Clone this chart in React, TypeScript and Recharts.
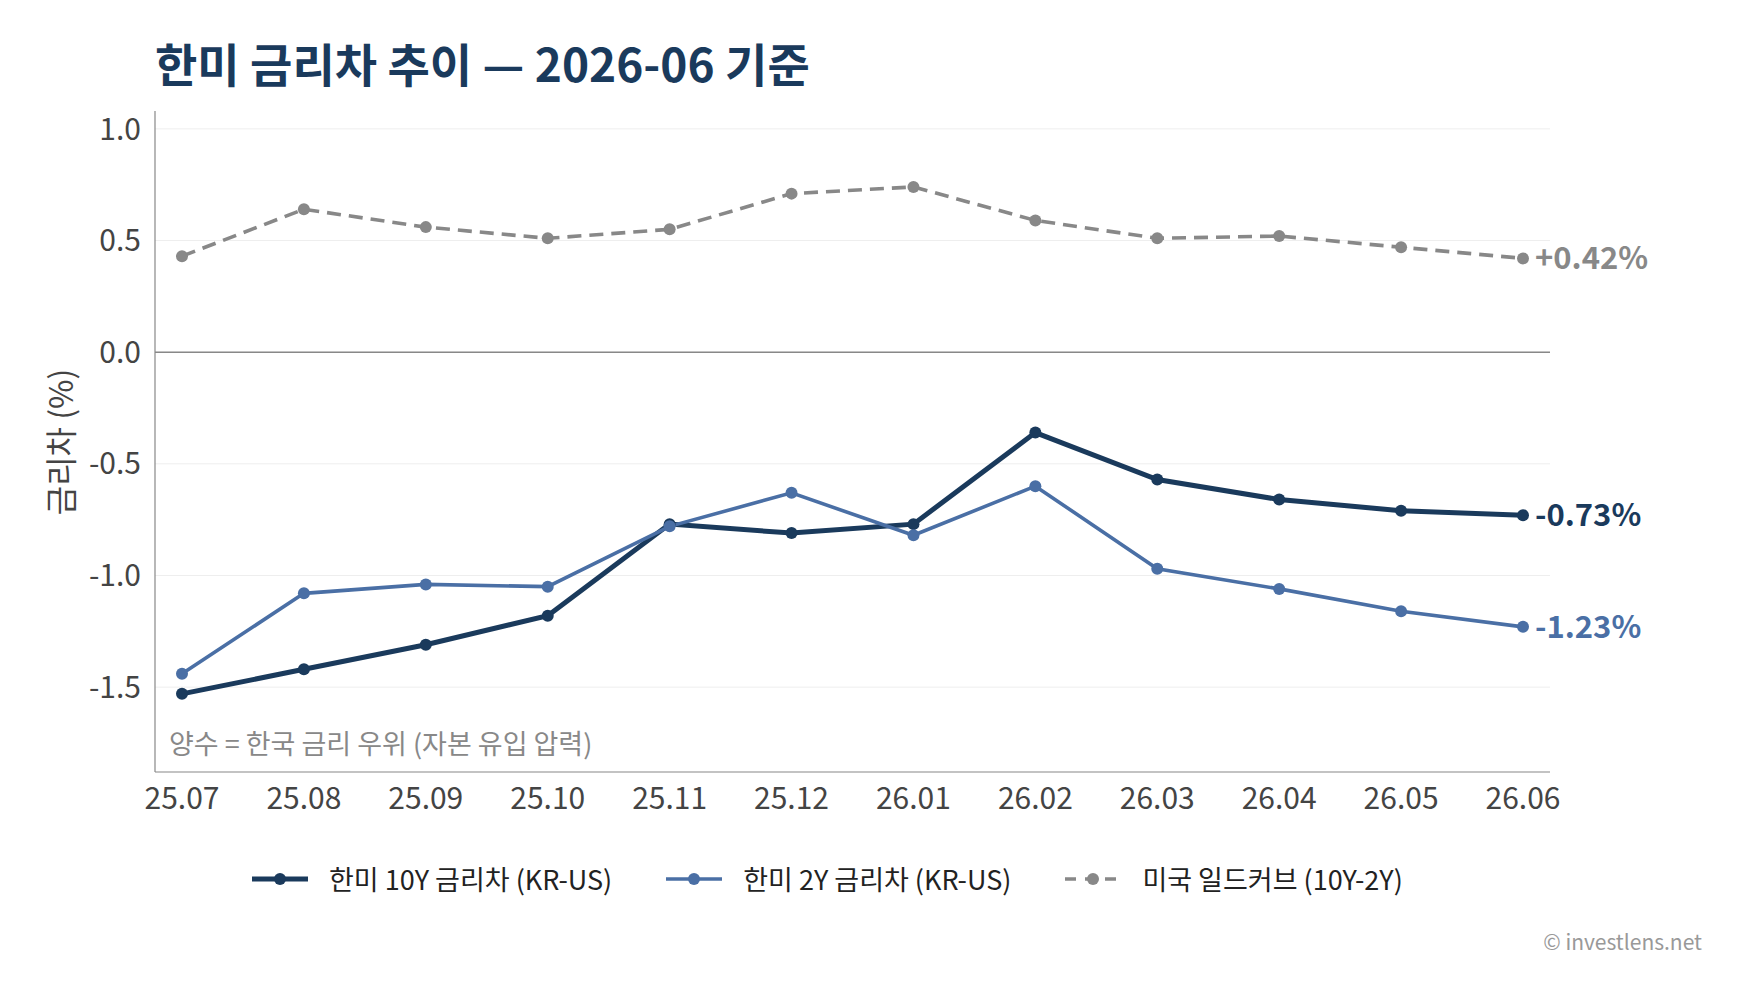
import React from 'react';
import {
  LineChart,
  Line,
  XAxis,
  YAxis,
  CartesianGrid,
  ReferenceLine,
} from 'recharts';

// Monthly snapshots (YY.MM)
const months = [
  '25.07', '25.08', '25.09', '25.10', '25.11', '25.12',
  '26.01', '26.02', '26.03', '26.04', '26.05', '26.06',
];

// KR-US 10Y yield spread (%p)
const spread10y = [-1.53, -1.42, -1.31, -1.18, -0.77, -0.81, -0.77, -0.36, -0.57, -0.66, -0.71, -0.73];
// KR-US 2Y yield spread (%p)
const spread2y = [-1.44, -1.08, -1.04, -1.05, -0.78, -0.63, -0.82, -0.60, -0.97, -1.06, -1.16, -1.23];
// US 10Y-2Y curve (%p)
const usCurve = [0.43, 0.64, 0.56, 0.51, 0.55, 0.71, 0.74, 0.59, 0.51, 0.52, 0.47, 0.42];

const yTicks = [-1.5, -1.0, -0.5, 0.0, 0.5, 1.0];

const FONT = '"Noto Sans CJK KR", "Noto Sans", sans-serif';

const series = [
  { key: 'k10', name: '한미 10Y 금리차 (KR-US)', color: '#1a3a5c', width: 5, dash: undefined as string | undefined },
  { key: 'k2', name: '한미 2Y 금리차 (KR-US)', color: '#4a6fa5', width: 3.6, dash: undefined as string | undefined },
  { key: 'us', name: '미국 일드커브 (10Y-2Y)', color: '#888888', width: 3.6, dash: '14 8' },
];

const data = months.map((m, i) => ({
  month: m,
  k10: spread10y[i],
  k2: spread2y[i],
  us: usCurve[i],
}));

const lastIndex = months.length - 1;

const fmtEnd = (v: number) => `${v > 0 ? '+' : ''}${v.toFixed(2)}%`;

const endLabel = (color: string) => (props: any) => {
  const { x, y, index, value } = props;
  if (index !== lastIndex) return null;
  return (
    <text
      x={x + 12}
      y={y}
      dy="0.35em"
      fill={color}
      fontFamily={FONT}
      fontSize={31}
      fontWeight={700}
    >
      {fmtEnd(value)}
    </text>
  );
};

function LegendIcon({ color, width, dash }: { color: string; width: number; dash?: string }) {
  return (
    <svg width={56} height={14} style={{ display: 'block' }}>
      <line x1={0} y1={7} x2={56} y2={7} stroke={color} strokeWidth={width} strokeDasharray={dash ? '11 9' : undefined} />
      <circle cx={28} cy={7} r={6} fill={color} />
    </svg>
  );
}

export default function App() {
  return (
    <div
      style={{
        position: 'absolute',
        left: 0,
        top: 0,
        width: 1747,
        height: 998,
        background: '#ffffff',
        fontFamily: FONT,
        overflow: 'hidden',
      }}
    >
      <div
        style={{
          position: 'absolute',
          left: 155,
          top: 36,
          fontSize: 46,
          lineHeight: '52px',
          fontWeight: 700,
          color: '#1a3a5c',
          whiteSpace: 'nowrap',
        }}
      >
        한미 금리차 추이 — 2026-06 기준
      </div>

      <div style={{ position: 'absolute', left: 0, top: 0 }}>
        <LineChart
          width={1747}
          height={998}
          data={data}
          margin={{ top: 111, right: 197, left: 0, bottom: 166 }}
        >
          <CartesianGrid
            horizontal
            vertical={false}
            stroke="#eeeeee"
            horizontalValues={yTicks}
          />
          <XAxis
            dataKey="month"
            padding={{ left: 27, right: 27 }}
            axisLine={{ stroke: '#888888', strokeWidth: 1.2 }}
            tickLine={false}
            tickSize={0}
            tickMargin={16}
            height={60}
            tick={{ fill: '#444444', fontSize: 30, fontFamily: FONT }}
            interval={0}
          />
          <YAxis
            width={155}
            domain={[-1.88, 1.08]}
            ticks={yTicks}
            tickFormatter={(v: number) => v.toFixed(1)}
            axisLine={{ stroke: '#888888', strokeWidth: 1.2 }}
            tickLine={false}
            tickSize={0}
            tickMargin={14}
            tick={{ fill: '#444444', fontSize: 30, fontFamily: FONT }}
            allowDataOverflow
          />
          <ReferenceLine y={0} stroke="#888888" strokeWidth={1.5} />
          {series.map((s) => (
            <Line
              key={s.key}
              type="linear"
              dataKey={s.key}
              name={s.name}
              stroke={s.color}
              strokeWidth={s.width}
              strokeDasharray={s.dash}
              dot={{ r: 6, fill: s.color, stroke: s.color, strokeWidth: 0 }}
              activeDot={false}
              isAnimationActive={false}
              label={endLabel(s.color)}
            />
          ))}
        </LineChart>
      </div>

      <div
        style={{
          position: 'absolute',
          left: 59,
          top: 442,
          transform: 'translate(-50%, -50%) rotate(-90deg)',
          fontSize: 32,
          color: '#444444',
          whiteSpace: 'nowrap',
          lineHeight: '38px',
        }}
      >
        금리차 (%)
      </div>

      <div
        style={{
          position: 'absolute',
          left: 169,
          top: 743,
          transform: 'translateY(-50%)',
          fontSize: 27,
          color: '#888888',
          whiteSpace: 'nowrap',
          lineHeight: '32px',
        }}
      >
        양수 = 한국 금리 우위 (자본 유입 압력)
      </div>

      <div
        style={{
          position: 'absolute',
          left: 252,
          top: 879,
          transform: 'translateY(-50%)',
          display: 'flex',
          alignItems: 'center',
          gap: 54,
          whiteSpace: 'nowrap',
        }}
      >
        {series.map((s) => (
          <div key={s.key} style={{ display: 'flex', alignItems: 'center' }}>
            <LegendIcon color={s.color} width={s.width} dash={s.dash} />
            <span style={{ marginLeft: 21, fontSize: 27, color: '#222222', lineHeight: '32px' }}>{s.name}</span>
          </div>
        ))}
      </div>

      <div
        style={{
          position: 'absolute',
          right: 1747 - 1702,
          top: 941,
          transform: 'translateY(-50%)',
          fontSize: 21,
          color: '#999999',
          whiteSpace: 'nowrap',
          lineHeight: '26px',
        }}
      >
        © investlens.net
      </div>
    </div>
  );
}
